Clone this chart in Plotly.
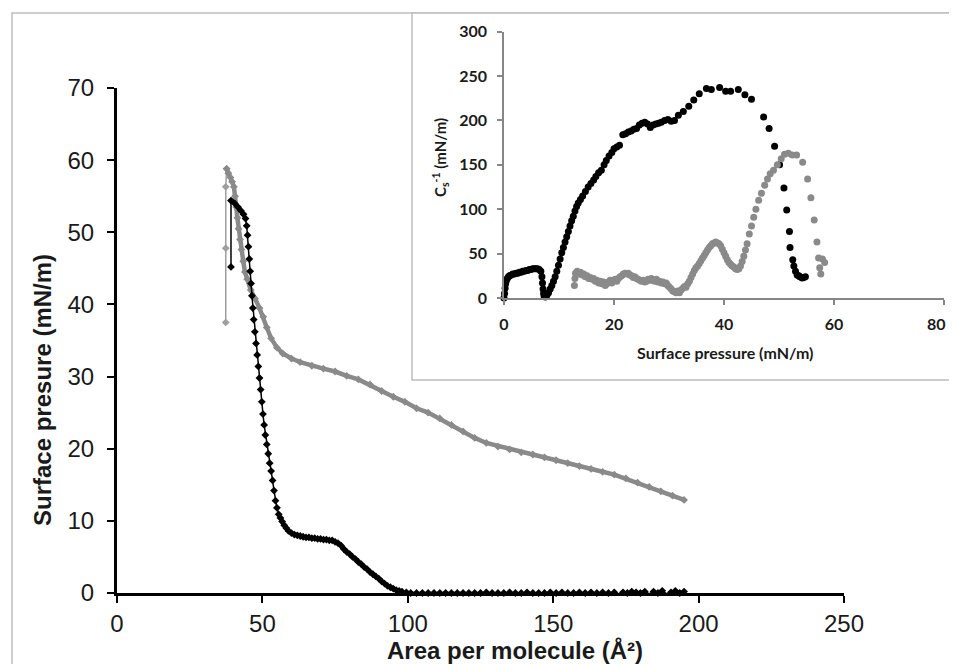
import plotly.graph_objects as go

# The page has an 8px body margin; the figure fills the rest of the 957x664 window.
OFF = 8
W, H = 957 - OFF, 664 - OFF

# ---------------- Main chart data (area per molecule vs surface pressure) ----------------
black_area = [195, 193.5, 192, 190.5, 189, 187.5, 186, 184.5, 183, 181.5, 180, 178.5, 177, 175.5, 174,
              172.5, 171, 169, 167, 165, 163, 161, 159, 157, 155, 153, 151, 149, 147, 145, 143, 141,
              139, 137, 135, 133, 131, 129, 127, 125, 123, 121, 119, 117, 115, 113, 111, 109, 107, 105,
              103, 101, 99.5, 98, 97, 96, 95, 94, 93, 92, 91, 90, 89, 88, 87, 86, 85, 84, 83, 82, 81,
              80, 79, 78, 77, 76, 75, 74, 73, 72, 71, 70, 69, 68, 67, 66, 65, 64, 63, 62, 61, 60, 59,
              58.2, 57.5, 56.8, 56.2, 55.6,
              55.0, 54.5, 54.0, 53.5, 53.0, 52.5, 52.0, 51.5, 51.0, 50.6, 50.2, 49.8, 49.4, 49.0, 48.6,
              48.2, 47.8, 47.4, 47.0, 46.7, 46.4, 46.1, 45.8, 45.5, 45.2, 44.9, 44.6, 44.2, 43.5, 42.6,
              41.6, 40.5, 39.2, 39.2]
black_pressure = [0.2, 0.0, 0.3, 0.1, -0.1, 0.3, 0.0, 0.2, -0.1, 0.2, 0.0, 0.1, 0.2, 0.0, 0.1,
                  -0.1, 0.1, 0.0, 0.1, 0.0, 0.1, 0.0, 0.1, 0.0, 0.0, 0.1, 0.0, 0.1, 0.0, 0.0, 0.0, 0.1,
                  0.0, 0.0, 0.1, 0.0, 0.0, 0.0, 0.1, 0.0, 0.0, 0.0, 0.0, 0.0, 0.0, 0.0, 0.0, 0.0, 0.0, 0.0,
                  0.0, 0.0, 0.1, 0.2, 0.3, 0.4, 0.6, 0.8, 1.0, 1.3, 1.6, 2.0, 2.3, 2.6, 2.9, 3.3, 3.6, 4.0,
                  4.3, 4.7, 5.0, 5.4, 5.7, 6.1, 6.6, 6.9, 7.1, 7.3, 7.3, 7.4, 7.4, 7.5, 7.5, 7.6, 7.6, 7.7,
                  7.7, 7.8, 7.9, 8.0, 8.1, 8.3, 8.6,
                  9.0, 9.4, 9.9, 10.4, 10.9,
                  11.8, 12.8, 14.2, 15.6, 16.9, 18.0, 19.3, 20.6, 21.9, 23.3, 24.8, 26.5, 28.2, 29.8, 31.4,
                  33.0, 34.6, 36.2, 37.9, 39.5, 41.2, 42.9, 44.6, 46.3, 48.0, 49.6, 50.9, 51.9, 52.5, 53.0,
                  53.5, 54.0, 54.4, 45.2]

gray_area = [195, 191, 187, 183, 179, 175, 171, 167, 163, 159, 155, 151, 147, 143, 139, 135, 131, 127, 123,
             119, 115, 111, 107, 103, 99, 95, 91, 87, 83, 79, 75, 71, 67, 63, 60, 57, 55, 53, 51.5, 50.3, 49,
             47.5, 46, 44.8, 44, 43.4, 42.8, 42.3, 41.8, 41.4, 41.0, 40.6, 40.2, 39.6, 39.0, 38.3, 37.7]
gray_pressure = [12.9, 13.5, 14.1, 14.7, 15.3, 15.9, 16.4, 16.8, 17.2, 17.6, 18.0, 18.4, 18.8, 19.2, 19.5,
                 19.9, 20.3, 20.8, 21.5, 22.4, 23.3, 24.2, 25.0, 25.6, 26.5, 27.2, 28.0, 28.9, 29.6, 30.1,
                 30.7, 31.1, 31.5, 32.0, 32.5, 33.2, 34.0, 35.3, 36.8, 38.3, 39.5, 40.8, 42.0, 43.5, 44.5,
                 46.0, 47.6, 49.0, 50.5, 52.0, 53.5, 55.0, 56.3, 57.0, 57.6, 58.2, 58.8]
# final collapse points of the grey isotherm (drawn with a thin line)
gray_collapse_area = [37.7, 37.4, 37.4, 37.4]
gray_collapse_pressure = [58.8, 56.3, 47.8, 37.5]

main_x_ticks = [0, 50, 100, 150, 200, 250]
main_y_ticks = [0, 10, 20, 30, 40, 50, 60, 70]

# ---------------- Inset data (compressibility modulus vs surface pressure) ----------------
inset_black_pi = [0.0, 0.1, 0.2, 0.3, 0.4, 0.6, 0.8, 1.0, 1.3, 1.6, 1.9, 2.2, 2.5, 2.8, 3.1, 3.4, 3.7, 4.0,
                  4.3, 4.6, 4.9, 5.2, 5.5, 5.8, 6.1, 6.4, 6.7, 6.9, 7.0, 7.1, 7.2, 7.3, 7.5, 7.8, 8.1, 8.4,
                  8.7, 9.0, 9.3, 9.6, 9.9, 10.2, 10.5, 10.8, 11.1, 11.4, 11.7, 12.0, 12.3, 12.6, 12.9, 13.2,
                  13.5, 13.9, 14.3, 14.8, 15.3, 15.8, 16.3, 16.7, 17.2, 17.7, 18.2, 18.6, 19.1, 19.6, 20.0,
                  20.5, 21.0, 21.6, 22.1, 22.6, 23.1, 23.6, 24.1, 24.6, 25.1, 25.6, 26.1, 26.6, 27.1, 27.6,
                  28.1, 28.6, 29.2, 29.8, 30.4, 31.0, 31.7, 32.6, 33.6, 34.5, 35.5, 36.8, 37.7, 39.2, 40.3,
                  41.2, 42.6, 43.8, 45.0, 47.2, 48.2, 49.2, 50.1, 50.9, 51.4, 51.9, 52.0, 52.5, 52.7, 53.0,
                  53.3, 53.6, 53.8, 54.2, 54.5, 54.8]
inset_black_cs = [0, 5, 11, 16, 19, 22, 24, 25, 26, 27, 27, 28, 28, 29, 29, 30, 30, 31,
                  31, 32, 32, 33, 33, 33, 33, 32, 30, 24, 17, 10, 5, 2, 1, 3, 6, 10,
                  14, 19, 24, 30, 37, 44, 51, 57, 63, 69, 75, 81, 87, 92, 98, 103,
                  107, 111, 115, 120, 125, 129, 133, 137, 141, 144, 150, 155, 160, 164, 168,
                  170, 172, 184, 185, 187, 188, 190, 191, 195, 197, 198, 196, 192, 195, 196,
                  197, 198, 200, 201, 199, 200, 206, 210, 216, 223, 230, 236, 235, 237, 233,
                  233, 235, 229, 224, 204, 191, 171, 150, 124, 99, 75, 57, 43, 36, 30,
                  26, 25, 24, 22.5, 23, 24]

inset_gray_pi = [12.8, 12.9, 13.0, 13.3, 13.6, 13.9, 14.2, 14.5, 14.8, 15.1, 15.4, 15.7, 16.0, 16.3, 16.6,
                 16.9, 17.2, 17.5, 17.8, 18.1, 18.4, 18.7, 19.0, 19.3, 19.6, 19.9, 20.2, 20.5, 20.8, 21.1,
                 21.4, 21.7, 22.0, 22.3, 22.6, 22.9, 23.2, 23.5, 23.8, 24.1, 24.4, 24.7, 25.0, 25.3, 25.6,
                 25.9, 26.2, 26.5, 26.8, 27.1, 27.4, 27.7, 28.0, 28.3, 28.6, 28.9, 29.2, 29.5, 29.8, 30.1,
                 30.4, 30.7, 31.0, 31.3, 31.6, 31.9, 32.2, 32.5, 32.8, 33.1, 33.4, 33.7, 34.0, 34.3, 34.6,
                 34.9, 35.2, 35.5, 35.8, 36.1, 36.4, 36.7, 37.0, 37.3, 37.6, 37.9, 38.2, 38.5, 38.8, 39.1,
                 39.4, 39.7, 40.0, 40.3, 40.6, 40.9, 41.2, 41.5, 41.8, 42.1, 42.4, 42.7, 43.0, 43.3, 43.6,
                 43.9, 44.2, 44.6, 45.0, 45.4, 45.8, 46.3, 46.8, 47.4, 47.9, 48.4, 49.0, 49.7, 50.4, 51.0,
                 51.7, 52.4, 53.2, 54.3, 55.2, 55.8, 56.4, 56.9, 57.2, 57.4, 57.6, 57.9, 58.3]
inset_gray_cs = [14, 22, 28, 30, 27, 29, 26, 27, 24, 25, 22, 23, 21, 22, 19,
                 20, 17, 19, 16, 18, 14, 16, 18, 20, 17, 20, 21, 19, 22, 24,
                 25, 27, 28, 27, 28, 26, 25, 23, 24, 22, 21, 20, 19, 20, 18,
                 19, 21, 20, 22, 20, 19, 21, 18, 19, 17, 18, 16, 17, 14, 12,
                 10, 8, 7, 6, 8, 6, 9, 11, 13, 12, 16, 19, 23, 27, 31,
                 34, 36, 39, 42, 45, 48, 51, 54, 57, 59, 61, 62, 63, 62, 61,
                 59, 55, 51, 47, 43, 40, 38, 36, 35, 33, 32, 33, 36, 41, 47,
                 54, 61, 72, 81, 91, 100, 110, 118, 127, 134, 140, 144, 150, 157, 162,
                 163, 161, 161, 153, 134, 113, 88, 63, 45, 34, 27, 44, 40]

inset_x_ticks = [0, 20, 40, 60, 80]
inset_x_ticktext = ["0", "20", "40", "60", ""]   # last label placed as annotation (page edge)
inset_x_last_label = "80"
inset_y_ticks = [0, 50, 100, 150, 200, 250, 300]

BLACK = "#000000"
GRAY = "#8a8a8a"


def px_x(p):
    """window pixel -> paper fraction"""
    return (p - OFF) / W


def px_y(p):
    return (H - (p - OFF)) / H


fig = go.Figure()

# main traces
fig.add_trace(go.Scatter(x=gray_collapse_area, y=gray_collapse_pressure, mode="lines+markers",
                         line=dict(color="#a0a0a0", width=1.5),
                         marker=dict(symbol="diamond", size=6, color="#a0a0a0"),
                         xaxis="x", yaxis="y", cliponaxis=False, showlegend=False))
fig.add_trace(go.Scatter(x=gray_area, y=gray_pressure, mode="lines+markers",
                         line=dict(color=GRAY, width=4.5),
                         marker=dict(symbol="diamond", size=6, color=GRAY),
                         xaxis="x", yaxis="y", cliponaxis=False, showlegend=False))
fig.add_trace(go.Scatter(x=black_area, y=black_pressure, mode="lines+markers",
                         line=dict(color=BLACK, width=1.5),
                         marker=dict(symbol="diamond", size=6, color=BLACK),
                         xaxis="x", yaxis="y", cliponaxis=False, showlegend=False))

# inset traces
fig.add_trace(go.Scatter(x=inset_black_pi, y=inset_black_cs, mode="markers",
                         marker=dict(symbol="circle", size=7, color=BLACK),
                         xaxis="x2", yaxis="y2", cliponaxis=False, showlegend=False))
fig.add_trace(go.Scatter(x=inset_gray_pi, y=inset_gray_cs, mode="markers",
                         marker=dict(symbol="circle", size=7, color=GRAY),
                         xaxis="x2", yaxis="y2", cliponaxis=False, showlegend=False))

tick_font_main = dict(family="Liberation Sans, Arial, sans-serif", size=24, color="#1a1a1a")
tick_font_inset = dict(family="Lato, sans-serif", size=16, color="#1a1a1a", weight="bold")

fig.update_layout(
    width=W, height=H, autosize=False,
    margin=dict(l=0, r=0, t=0, b=0, pad=0, autoexpand=False),
    paper_bgcolor="white", plot_bgcolor="rgba(0,0,0,0)",
    xaxis=dict(domain=[px_x(117), px_x(844)], range=[0, 250], tickvals=main_x_ticks,
               showgrid=False, zeroline=False, showline=True, linecolor="black", linewidth=3,
               ticks="outside", ticklen=7, tickwidth=2, tickcolor="black", automargin=False,
               tickfont=tick_font_main, anchor="y", ticklabelstandoff=0),
    yaxis=dict(domain=[px_y(593), px_y(88)], range=[0, 70], tickvals=main_y_ticks,
               showgrid=False, zeroline=False, showline=True, linecolor="black", linewidth=3,
               ticks="outside", ticklen=7, tickwidth=2, tickcolor="black", automargin=False,
               tickfont=tick_font_main, anchor="x", ticklabelstandoff=8),
    xaxis2=dict(domain=[px_x(504), px_x(944)], range=[0, 80], tickvals=inset_x_ticks,
                ticktext=inset_x_ticktext,
                showgrid=False, zeroline=False, showline=True, linecolor="#868686", linewidth=1.5,
                ticks="outside", ticklen=5, tickwidth=1.5, tickcolor="#868686", automargin=False,
                tickfont=tick_font_inset, anchor="y2", ticklabelstandoff=6),
    yaxis2=dict(domain=[px_y(298), px_y(31.7)], range=[0, 300], tickvals=inset_y_ticks,
                showgrid=False, zeroline=False, showline=True, linecolor="#868686", linewidth=1.5,
                ticks="outside", ticklen=5, tickwidth=1.5, tickcolor="#868686", automargin=False,
                tickfont=tick_font_inset, anchor="x2", ticklabelstandoff=7),
    shapes=[
        dict(type="rect", xref="paper", yref="paper", layer="below",
             x0=px_x(12), x1=px_x(962), y0=px_y(13), y1=px_y(670),
             line=dict(color="#bdbdbd", width=1.5), fillcolor="white"),
        dict(type="rect", xref="paper", yref="paper", layer="below",
             x0=px_x(412), x1=px_x(962), y0=px_y(13), y1=px_y(380),
             line=dict(color="#bdbdbd", width=1.5), fillcolor="white"),
    ],
    annotations=[
        dict(text="<b>Area per molecule (Å²)</b>", xref="paper", yref="paper",
             x=px_x(515), y=px_y(650), xanchor="center", yanchor="middle", showarrow=False,
             font=dict(family="Liberation Sans, Arial, sans-serif", size=24, color="#1a1a1a")),
        dict(text="<b>Surface presure (mN/m)</b>", xref="paper", yref="paper",
             x=px_x(42), y=px_y(390), xanchor="center", yanchor="middle", showarrow=False,
             textangle=-90,
             font=dict(family="Liberation Sans, Arial, sans-serif", size=24, color="#1a1a1a")),
        dict(text="<b>Surface pressure (mN/m)</b>", xref="paper", yref="paper",
             x=px_x(725), y=px_y(352), xanchor="center", yanchor="middle", showarrow=False,
             font=dict(family="Lato, sans-serif", size=16, color="#1a1a1a")),
        dict(text="<b>C<sub>s</sub><sup>-1</sup> (mN/m)</b>", xref="paper", yref="paper",
             x=px_x(440), y=px_y(158), xanchor="center", yanchor="middle", showarrow=False,
             textangle=-90,
             font=dict(family="Lato, sans-serif", size=15, color="#1a1a1a")),
        dict(text="<b>" + inset_x_last_label + "</b>", xref="paper", yref="paper",
             x=px_x(948), y=px_y(323), xanchor="right", yanchor="middle", showarrow=False,
             font=dict(family="Lato, sans-serif", size=16, color="#1a1a1a")),
    ],
)

fig.write_html("out.html")
